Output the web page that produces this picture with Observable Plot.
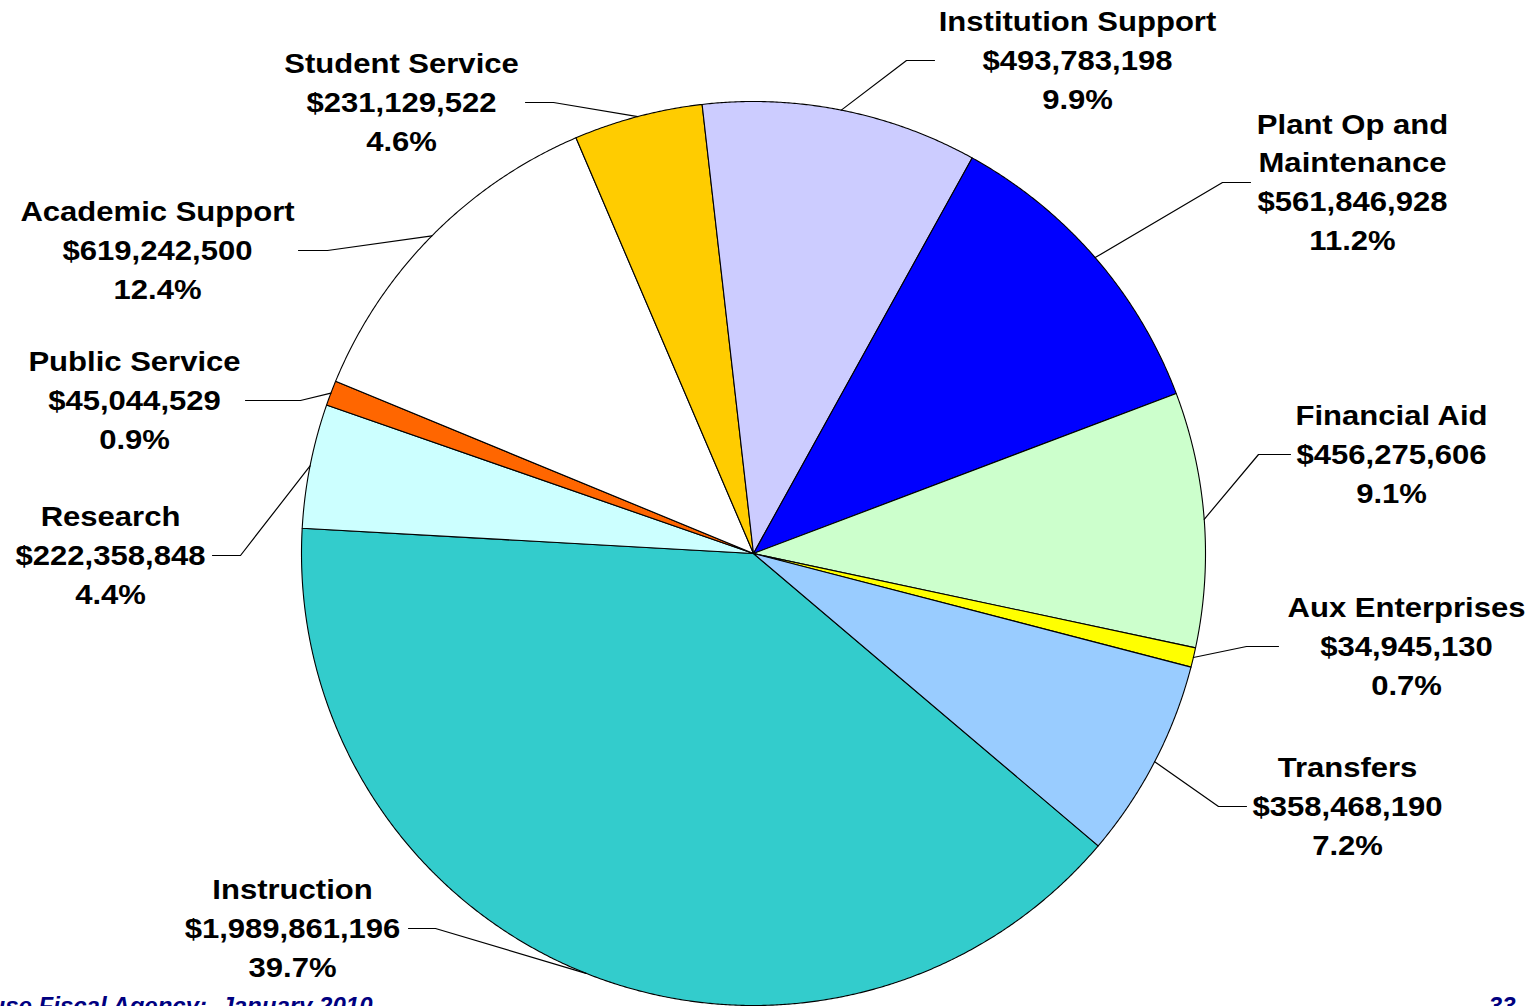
<!DOCTYPE html>
<html>
<head>
<meta charset="utf-8">
<script src="https://cdn.jsdelivr.net/npm/d3@7"></script>
<script src="https://cdn.jsdelivr.net/npm/@observablehq/plot@0.6"></script>
<style>
  html, body { margin: 0; padding: 0; background: #fff; overflow: hidden; }
  #chart svg { display: block; }
</style>
</head>
<body>
<div id="chart"></div>
<script>
// ---- Data ----
const categories = ["Instruction", "Research", "Public Service", "Academic Support", "Student Service",
  "Institution Support", "Plant Op and\nMaintenance", "Financial Aid", "Aux Enterprises", "Transfers"];
const amounts = [1989861196, 222358848, 45044529, 619242500, 231129522,
  493783198, 561846928, 456275606, 34945130, 358468190];
const colors = ["#33CCCC", "#CCFFFF", "#FF6600", "#FFFFFF", "#FFCC00",
  "#CCCCFF", "#0000FF", "#CCFFCC", "#FFFF00", "#99CCFF"];
const footerText = "House Fiscal Agency:  January 2010";
const pageNumber = "33";

// ---- Layout (pixel space) ----
const W = 1537, H = 1006;
const cx = 753, cy = 553, R = 452;
const startDeg = 130.3; // clockwise from 12 o'clock
// label center x, label center y, leader start x (near label), leader elbow x
const labelLayout = [
  [292, 928, 408, 435],
  [110, 555, 212, 240],
  [134, 400, 245, 300],
  [157, 250, 298, 327],
  [401, 102, 525, 553],
  [1077, 60, 934, 906],
  [1352, 182, 1250, 1222],
  [1391, 454, 1290, 1258],
  [1406, 646, 1278, 1246],
  [1347, 806, 1246, 1218]
];

const total = d3.sum(amounts);
const fmt$ = d3.format(",");
const fmtPct = d3.format(".1%");
const rad = (deg) => deg * Math.PI / 180;
const px = (deg, r) => cx + r * Math.sin(rad(deg));
const py = (deg, r) => cy - r * Math.cos(rad(deg));

let acc = 0;
const slices = categories.map((name, i) => {
  const a0 = startDeg + 360 * acc / total;
  acc += amounts[i];
  const a1 = startDeg + 360 * acc / total;
  return {name, value: amounts[i], color: colors[i], a0, a1, mid: (a0 + a1) / 2, i};
});

// polygon points for each slice
const slicePts = [];
for (const s of slices) {
  slicePts.push({name: s.name, color: s.color, x: cx, y: cy});
  const n = Math.max(2, Math.ceil((s.a1 - s.a0) / 0.25));
  for (let k = 0; k <= n; k++) {
    const a = s.a0 + (s.a1 - s.a0) * k / n;
    slicePts.push({name: s.name, color: s.color, x: px(a, R), y: py(a, R)});
  }
}

// leader lines
const leaderPts = [];
slices.forEach((s, i) => {
  const [lx, ly, x1, x2] = labelLayout[i];
  leaderPts.push({name: s.name, x: x1, y: ly});
  leaderPts.push({name: s.name, x: x2, y: ly});
  leaderPts.push({name: s.name, x: px(s.mid, R), y: py(s.mid, R)});
});

const labels = slices.map((s, i) => ({
  x: labelLayout[i][0], y: labelLayout[i][1],
  text: `${s.name}\n$${fmt$(s.value)}\n${fmtPct(s.value / total)}`
}));

const chart = Plot.plot({
  width: W, height: H,
  margin: 0,
  x: {domain: [0, W], range: [0, W], axis: null},
  y: {domain: [0, H], range: [0, H], axis: null},
  color: {type: "identity"},
  style: {fontFamily: "'Liberation Sans', Arial, sans-serif", background: "#fff"},
  marks: [
    Plot.line(slicePts, {x: "x", y: "y", z: "name", fill: "color", stroke: "#000", strokeWidth: 1.1, curve: "linear-closed"}),
    Plot.line(leaderPts, {x: "x", y: "y", z: "name", stroke: "#000", strokeWidth: 1.2}),
    Plot.text(labels, {x: "x", y: "y", text: "text", fontSize: 27, fontWeight: "bold", fill: "#000",
      lineHeight: 1.444, lineAnchor: "middle", textAnchor: "middle", dy: -3}),
    Plot.text([footerText], {x: 372, y: 1006, text: d => d, textAnchor: "end", fontSize: 24,
      fontWeight: "bold", fontStyle: "italic", fill: "#000080", lineAnchor: "middle"}),
    Plot.text([pageNumber], {x: 1515, y: 1006, text: d => d, textAnchor: "end", fontSize: 24,
      fontWeight: "bold", fontStyle: "italic", fill: "#000080", lineAnchor: "middle"})
  ]
});

// widen the label glyphs horizontally to match the reference's stretched type
const textGroups = chart.querySelectorAll('g[aria-label="text"]');
if (textGroups.length) {
  textGroups[0].querySelectorAll("text").forEach(t => {
    const tr = t.getAttribute("transform") || "";
    t.setAttribute("transform", tr + " scale(1.15,1)");
  });
}
document.getElementById("chart").appendChild(chart);
</script>
</body>
</html>
